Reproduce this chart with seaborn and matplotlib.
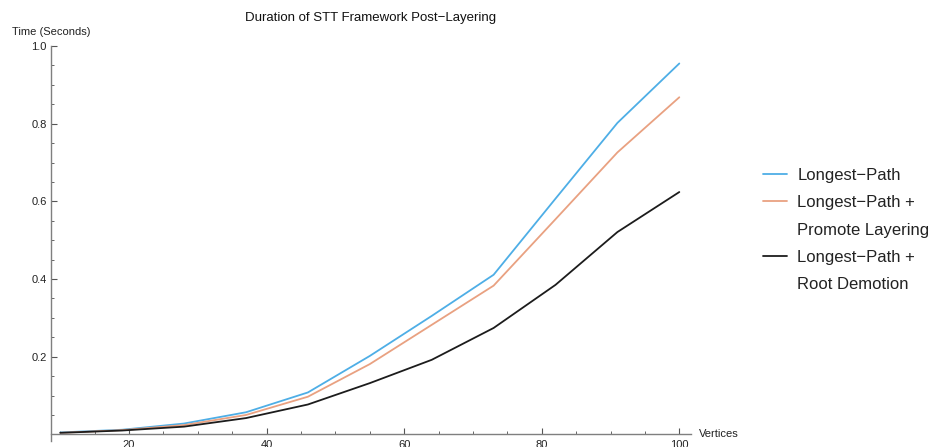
import matplotlib
matplotlib.use("Agg")
import matplotlib.pyplot as plt
from matplotlib.lines import Line2D
from matplotlib.ticker import MultipleLocator, FixedLocator
from matplotlib.transforms import blended_transform_factory
import seaborn as sns
import pandas as pd

# data
vertices = [10, 19, 28, 37, 46, 55, 64, 73, 82, 91, 100]
longest_path = [0.005, 0.012, 0.028, 0.057, 0.108, 0.202, 0.305, 0.411, 0.607, 0.802, 0.955]
promote_layering = [0.004, 0.011, 0.024, 0.050, 0.097, 0.181, 0.282, 0.383, 0.554, 0.726, 0.868]
root_demotion = [0.004, 0.010, 0.020, 0.042, 0.077, 0.132, 0.192, 0.274, 0.385, 0.521, 0.624]

series_names = ["Longest-Path", "Longest-Path + Promote Layering", "Longest-Path + Root Demotion"]
colors = ["#4eaee6", "#e9a181", "#1c1c1c"]

x_major = [20, 40, 60, 80, 100]
y_major = [0.2, 0.4, 0.6, 0.8, 1.0]

df = pd.DataFrame({
    "Vertices": vertices * 3,
    "Time": longest_path + promote_layering + root_demotion,
    "Series": [series_names[0]] * len(vertices)
    + [series_names[1]] * len(vertices)
    + [series_names[2]] * len(vertices),
})

sns.set_theme(style="ticks")
plt.rcParams["font.family"] = ["Liberation Sans", "DejaVu Sans"]
plt.rcParams["axes.unicode_minus"] = True

fig = plt.figure(figsize=(9.29, 4.47), dpi=100)
ax = fig.add_axes([51 / 929, 6 / 447, 640 / 929, 395 / 447])

sns.lineplot(data=df, x="Vertices", y="Time", hue="Series", palette=colors,
             linewidth=1.3, ax=ax, legend=False)

ax.set_xlim(8.65, 101.7)
ax.set_ylim(-0.017, 1.0)

# Mathematica-like axes crossing at y = 0
ax.spines["top"].set_visible(False)
ax.spines["right"].set_visible(False)
ax.spines["bottom"].set_position(("data", 0))
axis_col = "#7f7f7f"
for s in ("left", "bottom"):
    ax.spines[s].set_color(axis_col)
    ax.spines[s].set_linewidth(1.0)

ax.xaxis.set_major_locator(FixedLocator(x_major))
ax.xaxis.set_minor_locator(MultipleLocator(5))
ax.yaxis.set_major_locator(FixedLocator(y_major))
ax.yaxis.set_minor_locator(MultipleLocator(0.05))
ax.set_yticklabels([f"{v:.1f}" for v in y_major])
ax.set_xticklabels([str(v) for v in x_major])

ax.tick_params(which="major", direction="in", length=4.5, width=0.8,
               color="#555555", labelsize=8, labelcolor="#222222", pad=3)
ax.tick_params(axis="x", which="major", pad=4)
ax.tick_params(which="minor", direction="in", length=2.5, width=0.7,
               color="#666666")

ax.set_title("Duration of STT Framework Post\u2212Layering", fontsize=9.5,
             color="#111111", pad=18)

ax.set_ylabel("Time (Seconds)", rotation=0, fontsize=8, color="#222222",
              ha="center", va="bottom")
ax.yaxis.set_label_coords(0.0, 1.022)
ax.set_xlabel("Vertices", fontsize=8, color="#222222", ha="left", va="center")
ax.xaxis.set_label_coords(1.013, 0.0,
                          transform=blended_transform_factory(ax.transAxes, ax.transData))

# legend: one row per text line, blank handles for continuation lines
lines = ax.get_lines()
blank = Line2D([], [], linestyle="none")
handles = [lines[0], lines[1], blank, lines[2], blank]
labels = ["Longest\u2212Path", "Longest\u2212Path +", "Promote Layering",
          "Longest\u2212Path +", "Root Demotion"]
fig.legend(handles, labels, loc="upper left", bbox_to_anchor=(763 / 929, 1 - 168 / 447),
           frameon=False, fontsize=12, handlelength=1.45, handletextpad=0.6,
           labelspacing=0.74, borderpad=0, borderaxespad=0, labelcolor="#222222")

fig.savefig("out.png", dpi=100)
